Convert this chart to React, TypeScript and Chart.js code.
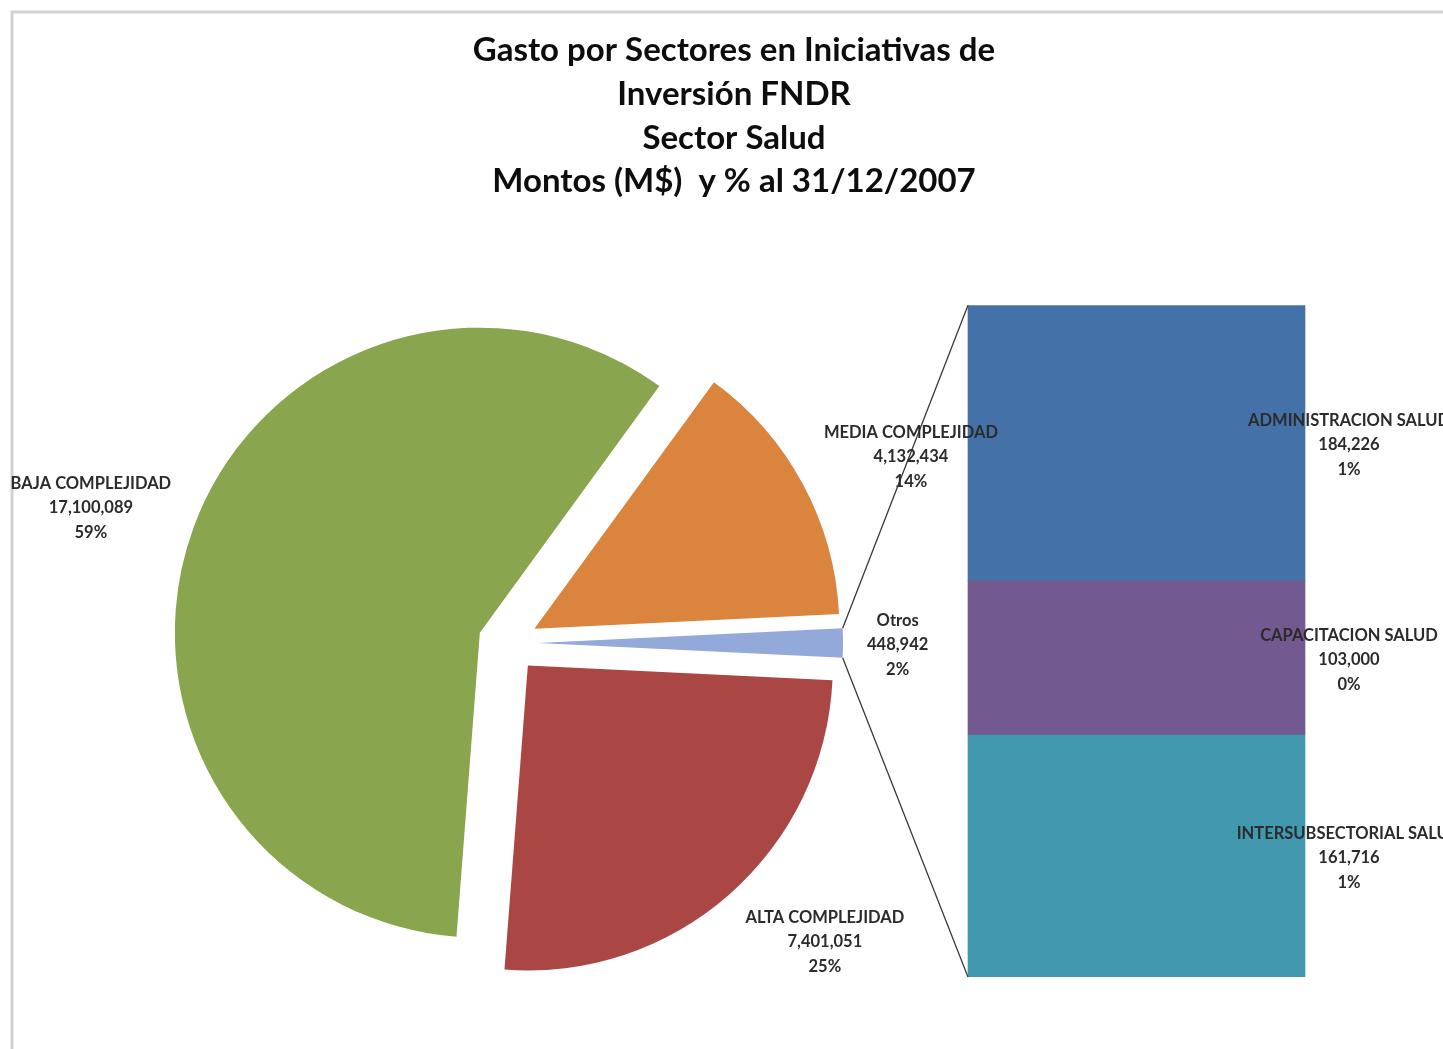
import React, { useEffect, useRef } from 'react';
import { Chart, registerables } from 'chart.js';

Chart.register(...registerables);

// ---------- data ----------
const titleLines = [
  'Gasto por Sectores en Iniciativas de',
  'Inversión FNDR',
  'Sector Salud',
  'Montos (M$)  y % al 31/12/2007',
];

// pie slices, in clockwise drawing order starting with the "Otros" slice
const pieLabels = ['Otros', 'ALTA COMPLEJIDAD', 'BAJA COMPLEJIDAD', 'MEDIA COMPLEJIDAD'];
const pieValues = [448942, 7401051, 17100089, 4132434];
const pieColors = ['#93A9D9', '#AA4643', '#89A54E', '#DB843D'];

// the "Otros" breakdown, top to bottom in the bar
const barLabels = ['ADMINISTRACION SALUD', 'CAPACITACION SALUD', 'INTERSUBSECTORIAL SALUD'];
const barValues = [184226, 103000, 161716];
const barColors = ['#4472A8', '#72598F', '#4198AF'];

// ---------- layout / style constants ----------
const W = 1443;
const H = 1049;
const PIE_RADIUS = 305;
const EXPLODE = 30;
const LABEL_FONT = 'bold 16.5px Lato';
const LABEL_COLOR = '#2b2b2b';
const LINE_H = 24.5;
const LABEL_GAP = 24;
const LABEL_DY = 2;
const BAR_LABEL_DX = 44;

const grandTotal = pieValues.reduce((a, b) => a + b, 0);
const otrosTotal = barValues.reduce((a, b) => a + b, 0);
const fmt = (v: number) => v.toLocaleString('en-US');
const pct = (v: number) => Math.round((v / grandTotal) * 100) + '%';
const clamp = (v: number) => Math.max(-1, Math.min(1, v));

function drawLines(ctx: CanvasRenderingContext2D, lines: string[], cx: number, cy: number) {
  lines.forEach((l, k) => {
    ctx.fillText(l, cx, cy + LABEL_DY + (k - (lines.length - 1) / 2) * LINE_H);
  });
}

export default function App() {
  const pieRef = useRef<HTMLCanvasElement | null>(null);
  const barRef = useRef<HTMLCanvasElement | null>(null);

  useEffect(() => {
    if (!pieRef.current || !barRef.current) return;

    const explodePlugin = {
      id: 'explode',
      afterDatasetUpdate(chart: any) {
        chart.getDatasetMeta(0).data.forEach((arc: any) => {
          const mid = (arc.startAngle + arc.endAngle) / 2;
          arc.x += Math.cos(mid) * EXPLODE;
          arc.y += Math.sin(mid) * EXPLODE;
        });
      },
    };

    const pieLabelPlugin = {
      id: 'pieLabels',
      afterDatasetsDraw(chart: any) {
        const ctx = chart.ctx as CanvasRenderingContext2D;
        ctx.save();
        ctx.font = LABEL_FONT;
        ctx.fillStyle = LABEL_COLOR;
        ctx.textAlign = 'center';
        ctx.textBaseline = 'middle';
        chart.getDatasetMeta(0).data.forEach((arc: any, i: number) => {
          const lines = [pieLabels[i], fmt(pieValues[i]), pct(pieValues[i])];
          const w = Math.max(...lines.map((l) => ctx.measureText(l).width));
          const h = lines.length * LINE_H;
          const mid = (arc.startAngle + arc.endAngle) / 2;
          const dx = Math.cos(mid);
          const dy = Math.sin(mid);
          const r = arc.outerRadius + LABEL_GAP;
          const cx = arc.x + dx * r + (clamp(1.6 * dx) * w) / 2;
          const cy = arc.y + dy * r + (dy * h) / 2;
          drawLines(ctx, lines, cx, cy);
        });
        ctx.restore();
      },
    };

    const pieChart = new Chart(pieRef.current, {
      type: 'pie',
      data: {
        labels: pieLabels,
        datasets: [
          {
            data: pieValues,
            backgroundColor: pieColors,
            borderWidth: 0,
            offset: 0,
            hoverOffset: 0,
          },
        ],
      },
      options: {
        responsive: false,
        animation: false,
        events: [],
        rotation: 90 - (pieValues[0] / grandTotal) * 180,
        radius: PIE_RADIUS,
        layout: { padding: { left: 0, right: 427, top: 237, bottom: 0 } },
        plugins: {
          legend: { display: false },
          title: { display: false },
          tooltip: { enabled: false },
        },
      } as any,
      plugins: [explodePlugin, pieLabelPlugin],
    });

    const barLabelPlugin = {
      id: 'barLabels',
      afterDatasetsDraw(chart: any) {
        const ctx = chart.ctx as CanvasRenderingContext2D;
        ctx.save();
        ctx.font = LABEL_FONT;
        ctx.fillStyle = LABEL_COLOR;
        ctx.textAlign = 'center';
        ctx.textBaseline = 'middle';
        chart.data.datasets.forEach((ds: any, d: number) => {
          const el: any = chart.getDatasetMeta(d).data[0];
          const v = ds.data[0];
          const cx = el.x + el.width / 2 + BAR_LABEL_DX;
          const cy = (el.y + el.base) / 2;
          drawLines(ctx, [ds.label, fmt(v), pct(v)], cx, cy);
        });
        ctx.restore();
      },
    };

    const connectorPlugin = {
      id: 'connectors',
      afterDraw(chart: any) {
        const ctx = chart.ctx as CanvasRenderingContext2D;
        const arc: any = pieChart.getDatasetMeta(0).data[0];
        const n = chart.data.datasets.length;
        const topBar: any = chart.getDatasetMeta(n - 1).data[0];
        const botBar: any = chart.getDatasetMeta(0).data[0];
        const r = arc.outerRadius;
        const p1 = { x: arc.x + Math.cos(arc.startAngle) * r, y: arc.y + Math.sin(arc.startAngle) * r };
        const p2 = { x: arc.x + Math.cos(arc.endAngle) * r, y: arc.y + Math.sin(arc.endAngle) * r };
        ctx.save();
        ctx.strokeStyle = '#3a3a3a';
        ctx.lineWidth = 1.3;
        ctx.beginPath();
        ctx.moveTo(p1.x, p1.y);
        ctx.lineTo(topBar.x - topBar.width / 2, topBar.y);
        ctx.moveTo(p2.x, p2.y);
        ctx.lineTo(botBar.x - botBar.width / 2, botBar.base);
        ctx.stroke();
        ctx.restore();
      },
    };

    const borderPlugin = {
      id: 'frame',
      beforeDraw(chart: any) {
        const ctx = chart.ctx as CanvasRenderingContext2D;
        ctx.save();
        ctx.strokeStyle = '#d2d2d2';
        ctx.lineWidth = 3;
        ctx.beginPath();
        ctx.moveTo(12, chart.height);
        ctx.lineTo(12, 12);
        ctx.lineTo(chart.width, 12);
        ctx.stroke();
        ctx.restore();
      },
    };

    const barDatasets = barLabels
      .map((label, i) => ({
        label,
        data: [barValues[i]],
        backgroundColor: barColors[i],
        borderWidth: 0,
        barThickness: 337,
      }))
      .reverse();

    const barChart = new Chart(barRef.current, {
      type: 'bar',
      data: { labels: ['Otros'], datasets: barDatasets },
      options: {
        responsive: false,
        animation: false,
        events: [],
        layout: { padding: { left: 25, right: 0, top: 0, bottom: 72 } },
        scales: {
          x: { stacked: true, display: false },
          y: {
            stacked: true,
            min: 0,
            max: otrosTotal,
            display: true,
            ticks: { display: false },
            grid: { display: false },
            border: { display: false },
            afterFit: (s: any) => {
              s.width = 805;
            },
          },
        },
        plugins: {
          legend: { display: false },
          tooltip: { enabled: false },
          title: {
            display: true,
            text: titleLines,
            color: '#0d0d0d',
            font: { family: 'Lato', size: 33, weight: 'bold', lineHeight: 1.32 },
            padding: { top: 29, bottom: 102 },
          },
        },
      } as any,
      plugins: [borderPlugin, barLabelPlugin, connectorPlugin],
    });

    return () => {
      barChart.destroy();
      pieChart.destroy();
    };
  }, []);

  return (
    <div style={{ position: 'absolute', left: 0, top: 0, width: W, height: H, background: '#fff' }}>
      <canvas ref={barRef} width={W} height={H} style={{ position: 'absolute', left: 0, top: 0 }} />
      <canvas ref={pieRef} width={W} height={H} style={{ position: 'absolute', left: 0, top: 0 }} />
    </div>
  );
}
